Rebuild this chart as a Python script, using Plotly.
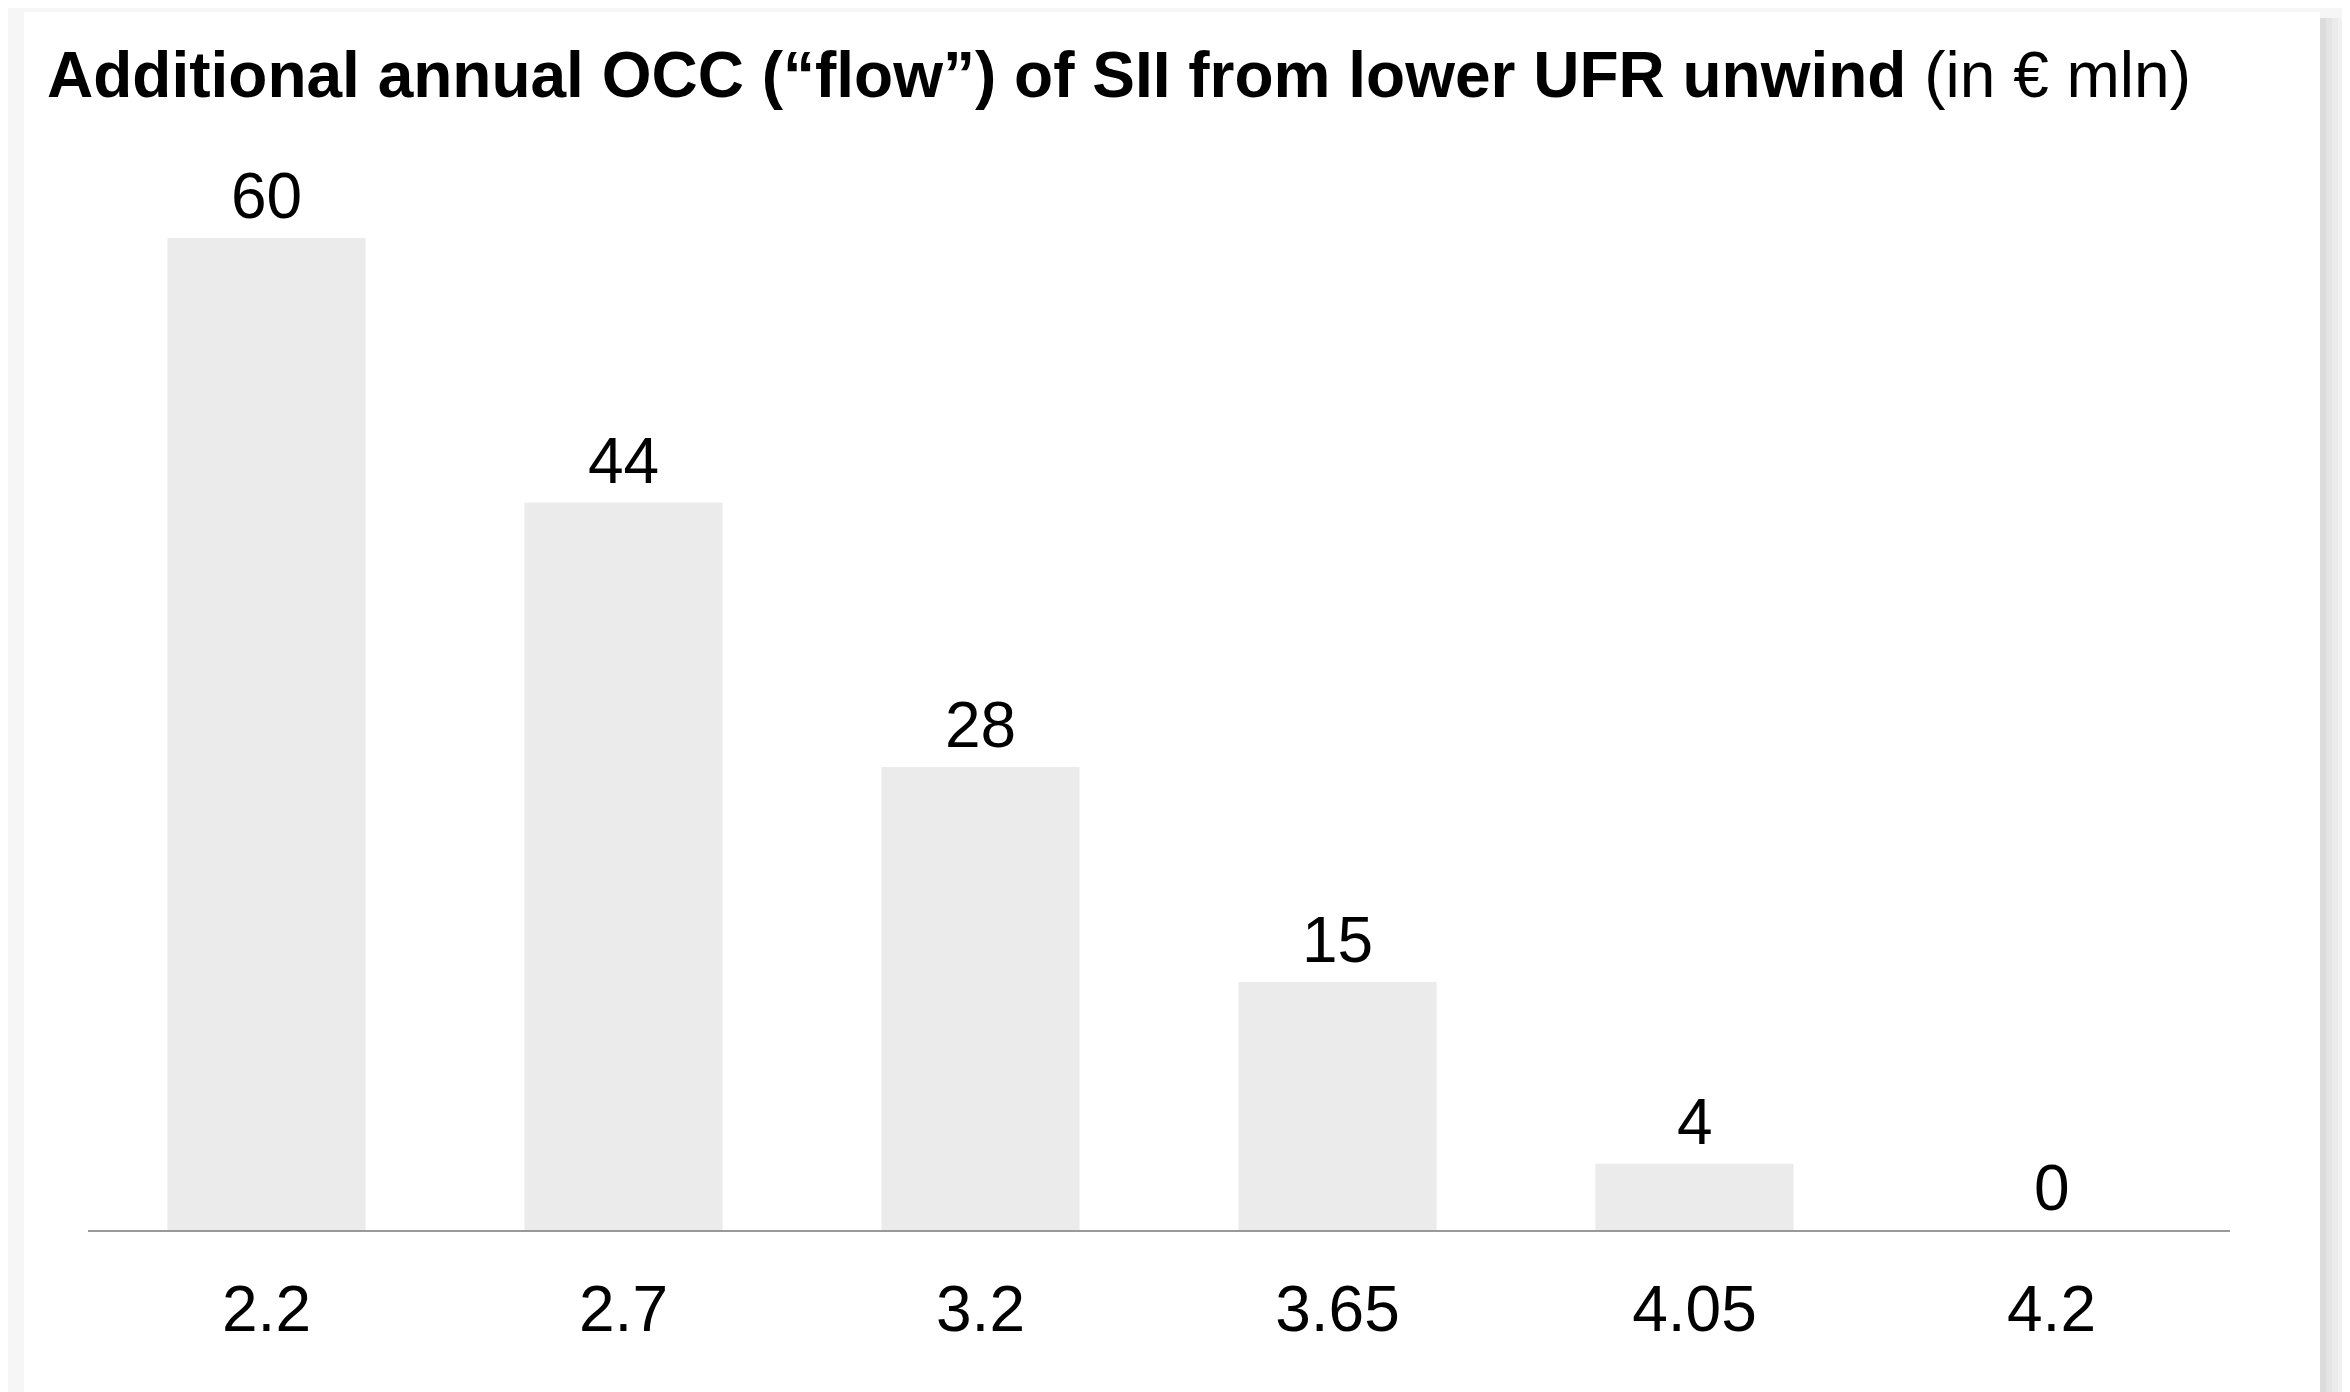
import plotly.graph_objects as go

categories = ["2.2", "2.7", "3.2", "3.65", "4.05", "4.2"]
values = [60, 44, 28, 15, 4, 0]
title_bold = "Additional annual OCC (“flow”) of SII from lower UFR unwind"
title_rest = " (in € mln)"

OFF = 8  # page body margin
SW, SH = 2350, 1392
W, H = SW - OFF, SH - OFF
# plot area in screen pixels
PX0, PX1, PY0, PY1 = 88, 2230, 238, 1230
L, R, T, B = PX0 - OFF, SW - PX1, PY0 - OFF, SH - PY1
PW, PH = PX1 - PX0, PY1 - PY0

def px_x(x):
    return (x - PX0) / PW

def px_y(y):
    return (PY1 - y) / PH

FONT = "Liberation Sans, Arial, sans-serif"

fig = go.Figure()
fig.add_trace(go.Bar(
    x=categories, y=values,
    marker=dict(color="#ebebeb", line=dict(width=0)),
    cliponaxis=False, hoverinfo="skip",
))

annotations = []
for i, v in enumerate(values):
    # category axis: position by category index
    annotations.append(dict(
        x=i, y=v, xref="x", yref="y", text=str(v), showarrow=False,
        xanchor="center", yanchor="bottom", yshift=4,
        font=dict(family=FONT, size=64, color="#000000"),
    ))
annotations.append(dict(
    text="<b>" + title_bold + "</b>" + title_rest,
    xref="paper", yref="paper", x=px_x(45), y=px_y(75),
    xanchor="left", yanchor="middle", showarrow=False,
    font=dict(family=FONT, size=64, color="#000000"),
))

shapes = []
shadow = [("#dcdcdc", 2320, 2326), ("#e4e4e4", 2326, 2332), ("#ebebeb", 2332, 2338), ("#f1f1f1", 2338, 2344)]
for col, x0, x1 in shadow:
    shapes.append(dict(type="rect", xref="paper", yref="paper", x0=px_x(x0), x1=px_x(x1),
                       y0=px_y(SH + 20), y1=px_y(18), fillcolor=col, line=dict(width=0), layer="below"))
shapes.append(dict(type="rect", xref="paper", yref="paper", x0=px_x(24), x1=px_x(2320),
                   y0=px_y(SH + 20), y1=px_y(12), fillcolor="#ffffff", line=dict(width=0), layer="below"))

fig.update_layout(
    width=W, height=H,
    margin=dict(l=L, r=R, t=T, b=B, pad=0),
    paper_bgcolor="#f6f6f6", plot_bgcolor="rgba(0,0,0,0)",
    showlegend=False, bargap=0.445,
    font=dict(family=FONT, color="#000000"),
    shapes=shapes,
    annotations=annotations,
    xaxis=dict(
        type="category", range=[-0.5, 5.5], showgrid=False, zeroline=False,
        showline=True, linecolor="#999999", linewidth=2,
        ticks="", tickfont=dict(family=FONT, size=64, color="#000000"),
        ticklabelstandoff=22, fixedrange=True,
    ),
    yaxis=dict(
        range=[0, 60], visible=False, showgrid=False, zeroline=False, fixedrange=True,
    ),
)

fig.write_html("out.html", config={"displayModeBar": False})
